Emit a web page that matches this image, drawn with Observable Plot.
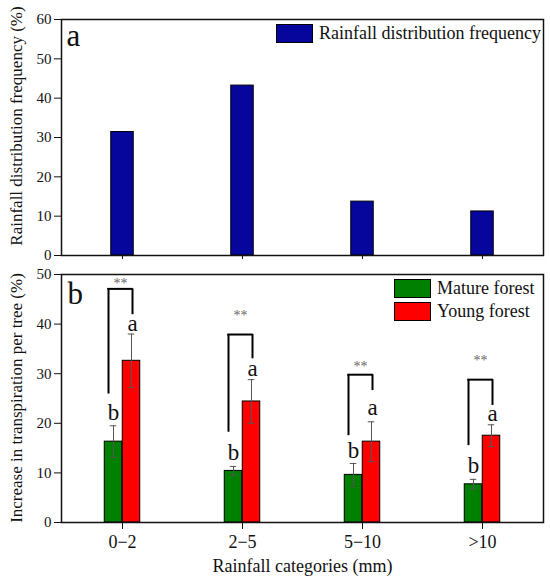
<!DOCTYPE html>
<html>
<head>
<meta charset="utf-8">
<script src="https://cdn.jsdelivr.net/npm/d3@7"></script>
<script src="https://cdn.jsdelivr.net/npm/@observablehq/plot@0.6"></script>
<style>
  html, body { margin: 0; padding: 0; background: white; }
  #chart { position: relative; width: 550px; height: 586px; font-family: "Liberation Serif", "Times New Roman", serif; overflow: hidden; }
  #chart svg { display: block; }
  .leg { position: absolute; display: flex; align-items: center; font-size: 18px; color: #111; white-space: nowrap; }
  .sw { width: 37px; height: 19px; border: 1px solid #000; margin-right: 6px; box-sizing: border-box; }
  .ytitle { position: absolute; font-size: 17px; color: #111; white-space: nowrap; transform: translate(-50%, -50%) rotate(-90deg); line-height: 1; }
</style>
</head>
<body>
<div id="chart"></div>
<script>
// ---- data ----
const categories = ["0−2", "2−5", "5−10", ">10"];
const rainfallFreq = [31.4, 43.2, 13.7, 11.2];
const matureMean = [16.3, 10.4, 9.6, 7.7];
const matureErr = [3.2, 0.9, 2.3, 1.0];
const youngMean = [32.6, 24.4, 16.3, 17.5];
const youngErr = [5.4, 4.4, 4.0, 2.2];
const matureLetters = ["b", "b", "b", "b"];
const matureLetterY = [20.7, 12.7, 13.1, 10.0];
const youngLetters = ["a", "a", "a", "a"];
const youngLetterY = [38.6, 29.6, 21.7, 20.5];
const bracketTop = [47.1, 37.9, 29.8, 28.8];
const bracketLeftEnd = [25.9, 18.2, 17.5, 15.5];
const bracketRightEnd = [41.9, 33.0, 26.6, 23.6];
const sigLabels = ["**", "**", "**", "**"];
const sigY = [47.2, 40.9, 30.6, 31.8];
const topTicks = [0, 10, 20, 30, 40, 50, 60];
const bottomTicks = [0, 10, 20, 30, 40, 50];

const W = 550, ML = 61, MR = 7;
const half = (W - ML - MR) / categories.length / 2;
const font = '"Liberation Serif", "Times New Roman", serif';
const style = {fontFamily: font, fontSize: "15px", color: "#111", background: "white", overflow: "visible"};

const topData = categories.map((c, i) => ({c, v: rainfallFreq[i]}));
const botData = categories.map((c, i) => ({
  c, m: matureMean[i], me: matureErr[i], y: youngMean[i], ye: youngErr[i],
  ml: matureLetters[i], mly: matureLetterY[i], yl: youngLetters[i], yly: youngLetterY[i],
  bt: bracketTop[i], bl: bracketLeftEnd[i], br: bracketRightEnd[i], s: sigLabels[i], sy: sigY[i]
}));

const topPlot = Plot.plot({
  width: W, height: 262, marginLeft: ML, marginRight: MR, marginTop: 19, marginBottom: 7,
  style,
  x: {type: "band", domain: categories, padding: 0},
  y: {domain: [0, 60]},
  marks: [
    Plot.barY(topData, {x: "c", y: "v", fill: "#06069c", stroke: "#000", strokeWidth: 1, insetLeft: half - 11.5, insetRight: half - 11.5}),
    Plot.axisY({ticks: topTicks, tickSize: 7, tickPadding: 3, fontSize: 15, fontFamily: font, label: null}),
    Plot.axisX({ticks: categories, tickSize: 4, tickFormat: () => "", label: null}),
    Plot.frame({stroke: "#111", strokeWidth: 1.5}),
    Plot.text(["a"], {frameAnchor: "top-left", dx: 5, dy: 26, lineAnchor: "bottom", textAnchor: "start", fontSize: 31, fontFamily: font})
  ]
});

const botPlot = Plot.plot({
  width: W, height: 324, marginLeft: ML, marginRight: MR, marginTop: 12, marginBottom: 64,
  style,
  x: {type: "band", domain: categories, padding: 0},
  y: {domain: [0, 50]},
  marks: [
    Plot.barY(botData, {x: "c", y: "m", fill: "#008000", stroke: "#000", strokeWidth: 1, insetLeft: half - 18, insetRight: half}),
    Plot.barY(botData, {x: "c", y: "y", fill: "#ff0000", stroke: "#000", strokeWidth: 1, insetLeft: half, insetRight: half - 18}),
    // error bars
    Plot.ruleX(botData, {x: "c", y1: d => d.m - d.me, y2: d => d.m + d.me, dx: -9, stroke: "#555", strokeWidth: 1}),
    Plot.ruleX(botData, {x: "c", y1: d => d.y - d.ye, y2: d => d.y + d.ye, dx: 9, stroke: "#555", strokeWidth: 1}),
    Plot.tickY(botData, {x: "c", y: d => d.m + d.me, stroke: "#555", strokeWidth: 1, insetLeft: half - 12.5, insetRight: half + 5.5}),
    Plot.tickY(botData, {x: "c", y: d => d.m - d.me, stroke: "#555", strokeWidth: 1, insetLeft: half - 12.5, insetRight: half + 5.5}),
    Plot.tickY(botData, {x: "c", y: d => d.y + d.ye, stroke: "#555", strokeWidth: 1, insetLeft: half + 5.5, insetRight: half - 12.5}),
    Plot.tickY(botData, {x: "c", y: d => d.y - d.ye, stroke: "#555", strokeWidth: 1, insetLeft: half + 5.5, insetRight: half - 12.5}),
    // significance brackets
    Plot.ruleX(botData, {x: "c", y1: "bl", y2: "bt", dx: -14, stroke: "#000", strokeWidth: 2}),
    Plot.ruleX(botData, {x: "c", y1: "br", y2: "bt", dx: 10, stroke: "#000", strokeWidth: 2}),
    Plot.tickY(botData, {x: "c", y: "bt", stroke: "#000", strokeWidth: 2, strokeLinecap: "square", insetLeft: half - 14, insetRight: half - 10}),
    Plot.text(botData, {x: "c", y: "sy", text: "s", dx: -2, lineAnchor: "bottom", fontSize: 14, fontFamily: font, fill: "#666"}),
    // letters
    Plot.text(botData, {x: "c", y: "mly", text: "ml", dx: -9, lineAnchor: "bottom", fontSize: 23, fontFamily: font}),
    Plot.text(botData, {x: "c", y: "yly", text: "yl", dx: 10, lineAnchor: "bottom", fontSize: 23, fontFamily: font}),
    Plot.axisY({ticks: bottomTicks, tickSize: 7, tickPadding: 3, fontSize: 15, fontFamily: font, label: null}),
    Plot.axisX({ticks: categories, tickSize: 7, tickPadding: 6, fontSize: 18, fontFamily: font, label: null}),
    Plot.frame({stroke: "#111", strokeWidth: 1.5}),
    Plot.text(["b"], {frameAnchor: "top-left", dx: 6, dy: 29, lineAnchor: "bottom", textAnchor: "start", fontSize: 31, fontFamily: font}),
    Plot.text(["Rainfall categories (mm)"], {frameAnchor: "bottom", dy: 49, fontSize: 18, fontFamily: font})
  ]
});

const chart = document.getElementById("chart");
chart.appendChild(topPlot);
chart.appendChild(botPlot);

function legendItem(left, top, color, label) {
  const d = document.createElement("div");
  d.className = "leg";
  d.style.left = left + "px";
  d.style.top = top + "px";
  d.style.height = "20px";
  const sw = document.createElement("div");
  sw.className = "sw";
  sw.style.background = color;
  d.appendChild(sw);
  const t = document.createElement("span");
  t.textContent = label;
  d.appendChild(t);
  chart.appendChild(d);
}
legendItem(276, 23, "#06069c", "Rainfall distribution frequency");
legendItem(394, 278, "#008000", "Mature forest");
legendItem(394, 301, "#ff0000", "Young forest");

function yTitle(cx, cy, label) {
  const d = document.createElement("div");
  d.className = "ytitle";
  d.style.left = cx + "px";
  d.style.top = cy + "px";
  d.textContent = label;
  chart.appendChild(d);
}
yTitle(16, 126, "Rainfall distribution frequency (%)");
yTitle(16, 398, "Increase in transpiration per tree (%)");
</script>
</body>
</html>
